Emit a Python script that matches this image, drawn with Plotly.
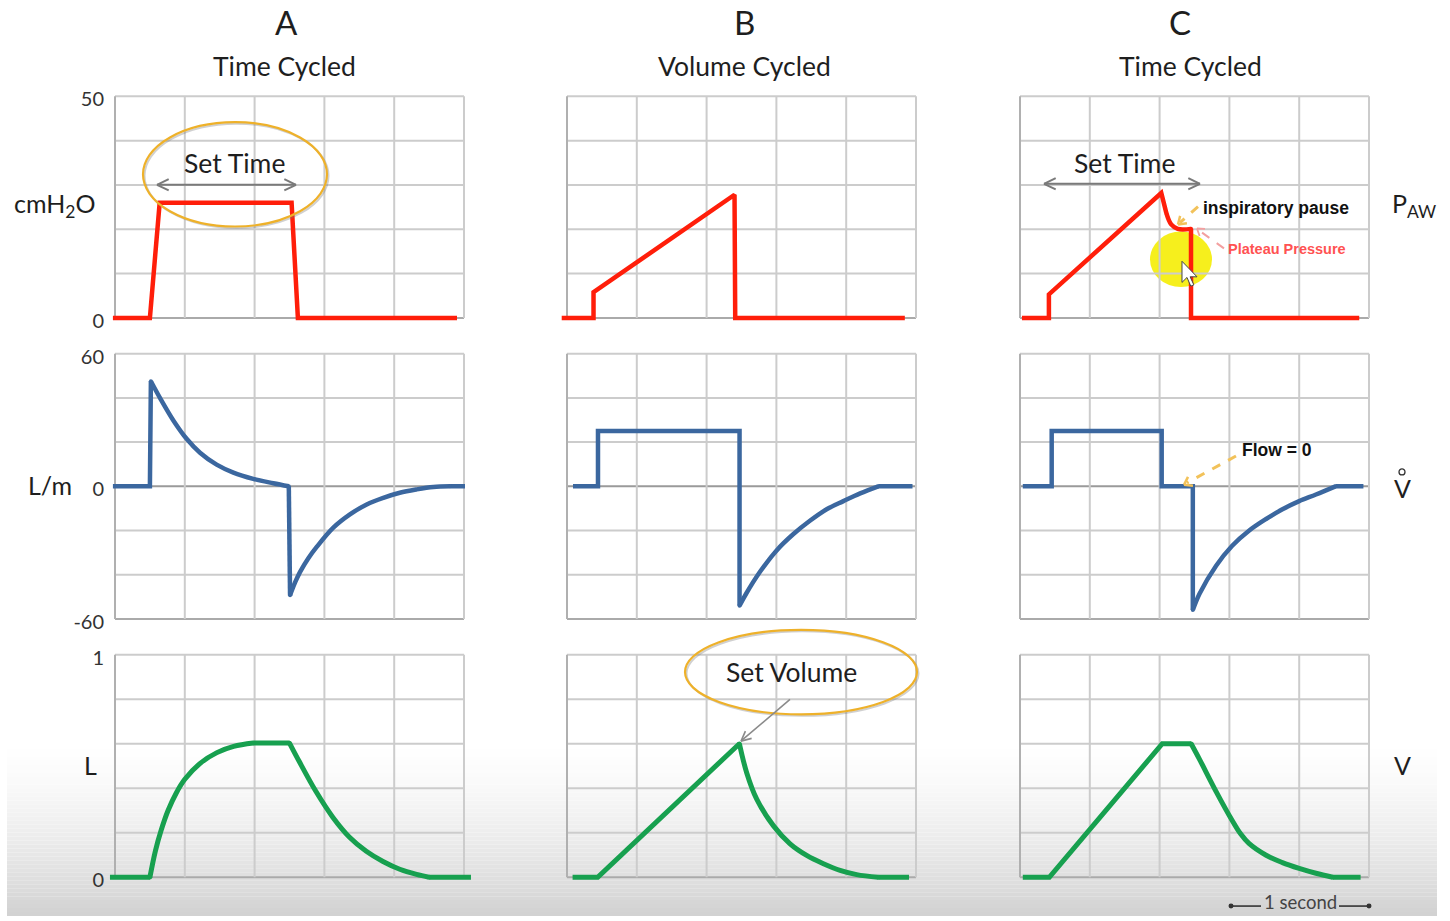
import numpy as np
import plotly.graph_objects as go

W, H = 1450, 921
FONT = "Lato"
BOLD = "Liberation Sans"

# ---------------- grid definitions ----------------
time_grid = [0.0, 0.5, 1.0, 1.5, 2.0, 2.5]          # 0.5 s per column
pressure_grid = [0, 10, 20, 30, 40, 50]              # cmH2O
flow_grid = [-60, -40, -20, 0, 20, 40, 60]           # L/min
volume_grid = [0.0, 0.2, 0.4, 0.6, 0.8, 1.0]         # L

pressure_ticks, pressure_ticktext = [0, 50], ["0", "50"]
flow_ticks, flow_ticktext = [-60, 0, 60], ["-60", "0", "60"]
volume_ticks, volume_ticktext = [0, 1], ["0", "1"]

# ---------------- waveforms (time in s) ----------------
# A: time cycled, pressure targeted
press_a_t = [-0.015, 0.25, 0.32, 1.265, 1.31, 2.45]
press_a_v = [0, 0, 26, 26, 0, 0]
flow_a_t = [-0.015, 0.25, 0.257, 0.322, 0.418, 0.513, 0.609, 0.728, 0.848, 0.99,
            1.134, 1.245, 1.254, 1.29, 1.325, 1.385, 1.445, 1.564, 1.683, 1.803, 1.922, 2.04,
            2.16, 2.28, 2.40, 2.507]
flow_a_v = [0, 0, 47.5, 40.0, 29.8, 21.5, 15.2, 9.8, 6.2, 3.4,
            1.4, 0, -49.3, -43.5, -38.8, -32.5, -27.4, -18.7, -12.7, -8.2, -5.2, -2.9,
            -1.4, -0.3, 0, 0]
vol_a_t = [-0.036, 0.25, 0.29, 0.33, 0.38, 0.44, 0.50, 0.61, 0.73, 0.85, 0.99, 1.25, 1.32,
           1.44, 1.56, 1.68, 1.80, 1.92, 2.04, 2.16, 2.25, 2.55]
vol_a_v = [0, 0, 0.12, 0.21, 0.30, 0.38, 0.44, 0.512, 0.56, 0.588, 0.603, 0.603, 0.52,
           0.385, 0.27, 0.18, 0.117, 0.071, 0.036, 0.013, 0, 0]

# B: volume cycled
press_b_t = [-0.038, 0.19, 0.19, 1.20, 1.205, 2.42]
press_b_v = [0, 0, 5.8, 27.8, 0, 0]
flow_b_t = [0.043, 0.222, 0.222, 1.236, 1.236, 1.283, 1.38, 1.50, 1.62, 1.74, 1.86, 1.98,
            2.10, 2.23, 2.475]
flow_b_v = [0, 0, 25, 25, -54, -48.6, -38.9, -29.1, -21.7, -15.6, -10.4, -6.7, -3.2, 0, 0]
vol_b_t = [0.04, 0.22, 1.235, 1.287, 1.359, 1.478, 1.598, 1.717, 1.837, 1.956, 2.075, 2.23, 2.45]
vol_b_v = [0, 0, 0.6, 0.47, 0.351, 0.232, 0.15, 0.098, 0.061, 0.031, 0.012, 0, 0]

# C: time cycled with inspiratory pause
press_c_t = [0.014, 0.207, 0.207, 1.012, 1.048, 1.083, 1.13, 1.225, 1.225, 2.43]
press_c_v = [0, 0, 5.3, 28.2, 23.7, 21.1, 20.1, 20.1, 0, 0]
flow_c_t = [0.02, 0.227, 0.227, 1.015, 1.015, 1.238, 1.238, 1.286, 1.405, 1.52, 1.64, 1.76,
            1.88, 2.0, 2.12, 2.26, 2.46]
flow_c_v = [0, 0, 25, 25, 0, 0, -56, -48.6, -35.9, -26.9, -20.1, -14.9, -10.4, -6.7, -3.7, 0, 0]
vol_c_t = [0.02, 0.21, 1.019, 1.226, 1.286, 1.405, 1.52, 1.58, 1.64, 1.76, 1.88, 2.0, 2.12,
           2.24, 2.44]
vol_c_v = [0, 0, 0.6, 0.6, 0.53, 0.385, 0.255, 0.195, 0.152, 0.10, 0.066, 0.04, 0.018, 0, 0]

RED, BLUE, GREEN = "#ff1e0a", "#3b679f", "#17a04f"

# (row, col, t, v, colour, width, index ranges drawn as smooth curves)
panels = [
    (0, 0, press_a_t, press_a_v, RED, 4.5, []),
    (1, 0, flow_a_t, flow_a_v, BLUE, 4.5, [(2, 11), (12, 24)]),
    (2, 0, vol_a_t, vol_a_v, GREEN, 5, [(1, 10), (11, 20)]),
    (0, 1, press_b_t, press_b_v, RED, 4.5, []),
    (1, 1, flow_b_t, flow_b_v, BLUE, 4.5, [(4, 13)]),
    (2, 1, vol_b_t, vol_b_v, GREEN, 5, [(2, 11)]),
    (0, 2, press_c_t, press_c_v, RED, 4.5, [(4, 7)]),
    (1, 2, flow_c_t, flow_c_v, BLUE, 4.5, [(6, 15)]),
    (2, 2, vol_c_t, vol_c_v, GREEN, 5, [(3, 13)]),
]

# ---------------- layout geometry (pixels) ----------------
col_frames = [(115, 464), (567, 916), (1020, 1369)]
row_frames = [(96, 319), (355, 622), (658, 882)]        # top, bottom
row_vals = [(0, 50), (-60, 60), (0, 1)]
row_pad = [2, 4, 0.04]
row_grids = [pressure_grid, flow_grid, volume_grid]
row_ticks = [(pressure_ticks, pressure_ticktext), (flow_ticks, flow_ticktext),
             (volume_ticks, volume_ticktext)]
t_range = (-0.05, 2.6)


def fx(x):
    return x / W


def fy(y):
    return 1 - y / H


layout = dict(
    width=W, height=H, margin=dict(l=0, r=0, t=0, b=0),
    paper_bgcolor="white", plot_bgcolor="rgba(0,0,0,0)", showlegend=False,
)
shapes = []
annotations = []

# soft grey band at the bottom
n_band = 44
y_start, y_end = 745, 921
for i in range(n_band):
    ya = y_start + (y_end - y_start) * i / n_band
    yb = y_start + (y_end - y_start) * (i + 1) / n_band
    f = ((i + 0.5) / n_band) ** 1.5
    g = int(round(255 - 46 * f))
    shapes.append(dict(type="rect", xref="paper", yref="paper", layer="below",
                       x0=fx(7), x1=fx(1437), y0=fy(yb), y1=fy(ya),
                       line=dict(width=0), fillcolor=f"rgb({g},{g},{g})"))

# yellow highlight behind the pause
shapes.append(dict(type="circle", xref="paper", yref="paper", layer="below",
                   x0=fx(1150), x1=fx(1212), y0=fy(288), y1=fy(232),
                   line=dict(width=0), fillcolor="rgba(245,238,10,0.92)"))

fig = go.Figure()

for r in range(3):
    for c in range(3):
        k = r * 3 + c + 1
        xs = "" if k == 1 else str(k)
        fl, fr = col_frames[c]
        sx = (fr - fl) / (time_grid[-1] - time_grid[0])
        left = fl - (0 - t_range[0]) * sx
        right = fr + (t_range[1] - 2.5) * sx
        ft, fb = row_frames[r]
        vmin, vmax = row_vals[r]
        sy = (fb - ft) / (vmax - vmin)
        pad = row_pad[r]
        top = ft - pad * sy
        bottom = fb + pad * sy
        layout["xaxis" + xs] = dict(domain=[fx(left), fx(right)], range=list(t_range),
                                    anchor="y" + xs, visible=False, fixedrange=True)
        yax = dict(domain=[fy(bottom), fy(top)], range=[vmin - pad, vmax + pad],
                   anchor="x" + xs, showgrid=False, zeroline=False, showline=False,
                   fixedrange=True, ticks="")
        if c == 0:
            tv, tt = row_ticks[r]
            yax.update(tickvals=tv, ticktext=tt, showticklabels=True,
                       tickfont=dict(family=FONT, size=20, color="#333333"),
                       ticklabelstandoff=3, ticklabelshift=3)
        else:
            yax.update(showticklabels=False)
        layout["yaxis" + xs] = yax

        xr, yr = "x" + xs, "y" + xs
        # grid
        for v in row_grids[r]:
            col = "#cccccc"
            if v == vmin:
                col = "#aaaaaa"
            if r == 1 and v == 0:
                col = "#9a9a9a"
            shapes.append(dict(type="line", xref=xr, yref=yr, layer="below",
                               x0=time_grid[0], x1=time_grid[-1], y0=v, y1=v,
                               line=dict(color=col, width=2)))
        for t in time_grid:
            col = "#b0b0b0" if t == time_grid[0] else "#cccccc"
            shapes.append(dict(type="line", xref=xr, yref=yr, layer="below",
                               x0=t, x1=t, y0=vmin, y1=vmax,
                               line=dict(color=col, width=2)))


def pieces(n, smooth):
    """Split indices 0..n-1 into (i0, i1, is_smooth) runs sharing end points."""
    out, cur = [], 0
    for i0, i1 in smooth:
        if i0 > cur:
            out.append((cur, i0, False))
        out.append((i0, i1, True))
        cur = i1
    if cur < n - 1:
        out.append((cur, n - 1, False))
    return out


# waveforms
for r, c, t, v, colour, w, smooth in panels:
    k = r * 3 + c + 1
    xs = "" if k == 1 else str(k)
    for i0, i1, sm in pieces(len(t), smooth):
        line = dict(color=colour, width=w)
        if sm:
            line.update(shape="spline", smoothing=1.0)
        fig.add_trace(go.Scatter(x=t[i0:i1 + 1], y=v[i0:i1 + 1], mode="lines",
                                 xaxis="x" + xs, yaxis="y" + xs, line=line,
                                 hoverinfo="skip"))
    # round joints where pieces meet
    joints = sorted({i for i0, i1, _ in pieces(len(t), smooth) for i in (i0, i1)}
                    - {0, len(t) - 1})
    fig.add_trace(go.Scatter(x=[t[i] for i in joints], y=[v[i] for i in joints],
                             mode="markers", xaxis="x" + xs, yaxis="y" + xs,
                             marker=dict(color=colour, size=w - 0.5, line=dict(width=0)),
                             hoverinfo="skip"))


def text(x, y, s, size, color="#1e1e1e", family=FONT, xanchor="center"):
    annotations.append(dict(x=fx(x), y=fy(y), xref="paper", yref="paper", text=s,
                            showarrow=False, xanchor=xanchor, yanchor="middle",
                            font=dict(family=family, size=size, color=color)))


def seg(x0, y0, x1, y1, color, width, dash="solid"):
    shapes.append(dict(type="line", xref="paper", yref="paper", layer="above",
                       x0=fx(x0), y0=fy(y0), x1=fx(x1), y1=fy(y1),
                       line=dict(color=color, width=width, dash=dash)))


def head(xt, yt, xf, yf, color, width, length=11, spread=0.5):
    """Open chevron arrow head at (xt, yt) pointing away from (xf, yf)."""
    d = np.array([xt - xf, yt - yf], dtype=float)
    d /= np.hypot(*d)
    for s in (spread, -spread):
        rot = np.array([[np.cos(s), -np.sin(s)], [np.sin(s), np.cos(s)]])
        b = rot @ d
        seg(xt, yt, xt - b[0] * length, yt - b[1] * length, color, width)


def ellipse(x0, y0, x1, y1):
    shapes.append(dict(type="circle", xref="paper", yref="paper", layer="above",
                       x0=fx(x0 + 1.5), x1=fx(x1 + 1.5), y0=fy(y1 + 1.5), y1=fy(y0 + 1.5),
                       line=dict(color="rgba(120,120,120,0.35)", width=2)))
    shapes.append(dict(type="circle", xref="paper", yref="paper", layer="above",
                       x0=fx(x0), x1=fx(x1), y0=fy(y1), y1=fy(y0),
                       line=dict(color="#eeb12a", width=2.2)))


# column headings
text(286, 21, "A", 33)
text(744, 21, "B", 33)
text(1180, 21, "C", 33)
text(284, 65, "Time Cycled", 26.5)
text(744, 65, "Volume Cycled", 26.5)
text(1190, 65, "Time Cycled", 26.5)

# row labels
text(55, 205, "cmH<sub>2</sub>O", 25)
text(50, 487, "L/m", 25)
text(90, 769, "L", 25)
text(1414, 205, "P<sub>AW</sub>", 25)
text(1402, 490, "V", 25)
shapes.append(dict(type="circle", xref="paper", yref="paper", layer="above",
                   x0=fx(1399), x1=fx(1405), y0=fy(477), y1=fy(471),
                   line=dict(color="#333333", width=1.3)))
text(1402, 769, "V", 25)

# Set Time (A)
ellipse(143, 122, 327, 227)
text(234, 163, "Set Time", 26.5)
seg(157, 185, 296, 185, "#7a7a7a", 2)
head(157, 185, 296, 185, "#7a7a7a", 2, 13, 0.45)
head(296, 185, 157, 185, "#7a7a7a", 2, 13, 0.45)

# Set Time (C)
text(1124, 163, "Set Time", 26.5)
seg(1044, 184, 1200, 184, "#7a7a7a", 2)
head(1044, 184, 1200, 184, "#7a7a7a", 2, 13, 0.45)
head(1200, 184, 1044, 184, "#7a7a7a", 2, 13, 0.45)

# inspiratory pause / plateau pressure
text(1276, 208, "<b>inspiratory pause</b>", 17.5, "#111111", BOLD)
seg(1198, 207, 1180, 223, "#f2c25a", 3, "dash")
head(1178, 225, 1198, 207, "#f2c25a", 2.5, 9, 0.6)
text(1287, 250, "<b>Plateau Pressure</b>", 14.5, "#ff5252", BOLD)
seg(1224, 249, 1199, 231, "#f3a0a0", 2, "dash")
head(1197, 229, 1224, 249, "#f3a0a0", 1.8, 8, 0.6)

# mouse pointer
cx, cy, s = 1182, 262, 1.25
pts = [(0, 0), (0, 17), (4, 13), (7, 20), (9.5, 19), (6.5, 12.5), (12, 12.5)]
path = "M " + " L ".join(f"{fx(cx + s * a):.5f},{fy(cy + s * b):.5f}" for a, b in pts) + " Z"
shapes.append(dict(type="path", xref="paper", yref="paper", layer="above", path=path,
                   fillcolor="white", line=dict(color="#444444", width=1)))

# Flow = 0
text(1277, 452, "<b>Flow = 0</b>", 17.5, "#111111", BOLD)
seg(1236, 458, 1187, 485, "#f2c25a", 3, "dash")
head(1184, 487, 1236, 458, "#f2c25a", 2.5, 9, 0.6)

# Set Volume (B)
ellipse(685, 633, 917, 718)
text(791, 675, "Set Volume", 26.5)
seg(790, 703, 742, 744, "#8a8a8a", 1.6)
head(741, 745, 790, 703, "#8a8a8a", 1.6, 11, 0.45)

# time scale
text(1300, 907, "1 second", 18.5, "#444444")
seg(1232, 911, 1261, 911, "#333333", 1.6)
seg(1339, 911, 1368, 911, "#333333", 1.6)
for xd in (1231, 1369):
    shapes.append(dict(type="circle", xref="paper", yref="paper", layer="above",
                       x0=fx(xd - 2.5), x1=fx(xd + 2.5), y0=fy(913.5), y1=fy(908.5),
                       fillcolor="#333333", line=dict(width=0)))

layout["shapes"] = shapes
layout["annotations"] = annotations
fig.update_layout(**layout)
fig.write_html("out.html")
